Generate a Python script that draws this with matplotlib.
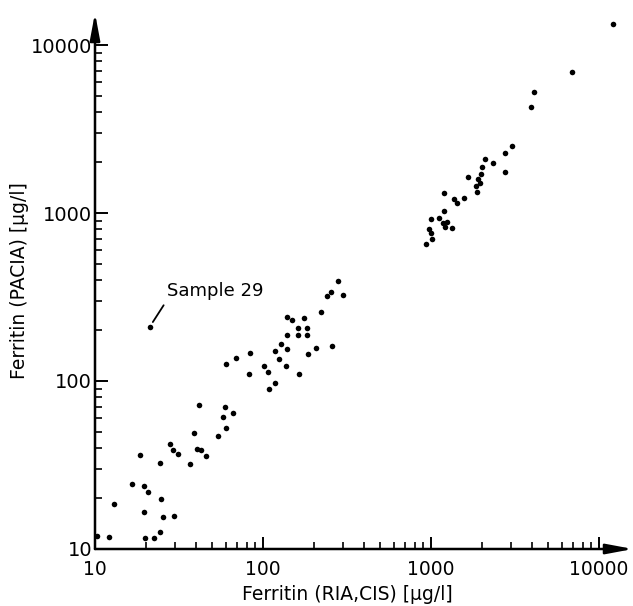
import numpy as np
import matplotlib
matplotlib.use("Agg")
import matplotlib.pyplot as plt
from matplotlib.ticker import LogLocator, FixedLocator, NullFormatter

# Ferritin (RIA, CIS) [ug/l]  -- x values
ria = [10.3, 12.1, 13.0, 16.5, 18.6, 19.7, 20.6, 19.7, 19.8, 22.5,
       24.4, 24.6, 25.3, 24.5, 29.5, 28.1, 29.2, 31.3, 36.9, 38.8,
       41.6, 40.6, 42.8, 45.6, 54.0, 58.0, 59.7, 60.2, 66.0,
       60.0, 69.3, 83.7, 82.9, 101.8, 107.1, 108.2, 118.4, 117.9, 124.0,
       127.4, 138.4, 138.4, 137.0, 138.4, 148.4, 160.9, 160.9, 176.1, 182.0,
       182.0, 163.2, 186.1, 206.8, 256.5, 222.3, 239.4, 252.8, 278.4, 300.6,
       930, 1018, 995, 973, 995, 1116, 1174, 1240, 1217, 1327,
       1194, 1202, 1376, 1434, 1578, 1667, 1892, 1944, 1845, 1884,
       1993, 2018, 2082, 2355, 2746, 2757, 3034, 3954, 4083, 6902, 12067]

# Ferritin (PACIA) [ug/l]  -- y values
pacia = [12.0, 11.8, 18.6, 24.5, 36.1, 23.6, 21.8, 16.5, 11.7, 11.6,
         12.7, 19.8, 15.5, 32.4, 15.7, 42.4, 38.7, 36.6, 31.9, 49.0,
         71.9, 39.4, 39.0, 35.8, 47.1, 60.8, 69.7, 52.3, 64.8,
         126.8, 136.5, 147.4, 110.5, 123.3, 112.7, 89.6, 97.3, 150.3, 135.7,
         166.7, 187.9, 155.6, 122.8, 239.4, 230.6, 207.5, 187.9, 236.1, 206.0,
         187.9, 110.5, 144.2, 157.0, 162.2, 258.5, 320.6, 338.8, 395.5, 325.2,
         651, 703, 757, 800, 921, 930, 875, 888, 829, 811,
         1028, 1318, 1206, 1151, 1223, 1644, 1587, 1509, 1439, 1331,
         1718, 1886, 2087, 1979, 1750, 2291, 2515, 4256, 5248, 6878, 13335]

# Outlier "Sample 29"
sample29_x = [21.2]
sample29_y = [210.4]
sample29_label = "Sample 29"

x_label = "Ferritin (RIA,CIS) [\u03bcg/l]"
y_label = "Ferritin (PACIA) [\u03bcg/l]"
tick_values = [10, 100, 1000, 10000]
tick_labels = ["10", "100", "1000", "10000"]

plt.rcParams['font.family'] = ['DejaVu Sans']

W, H = 633, 606
fig = plt.figure(figsize=(W / 100, H / 100), dpi=100)
left_px, right_px, bottom_px, top_px = 95, 633, 549, 13
ax = fig.add_axes([left_px / W, (H - bottom_px) / H,
                   (right_px - left_px) / W, (bottom_px - top_px) / H])
ax.set_xscale('log')
ax.set_yscale('log')
dec = 168.0
ax.set_xlim(10, 10 ** (1 + (right_px - left_px) / dec))
ax.set_ylim(10, 10 ** (1 + (bottom_px - top_px) / dec))

ax.scatter(ria, pacia, s=16, color='black', linewidths=0, zorder=3)
ax.scatter(sample29_x, sample29_y, s=16, color='black', linewidths=0, zorder=3)

ax.annotate(sample29_label, xy=(sample29_x[0], sample29_y[0]),
            xytext=(26.8, 320), textcoords='data',
            fontsize=13, ha='left', va='baseline',
            arrowprops=dict(arrowstyle='-', color='black', lw=1.3,
                            shrinkA=2, shrinkB=4, relpos=(0, 0)))

for s in ax.spines.values():
    s.set_visible(False)

# axes drawn as arrows
arrow_kw = dict(arrowstyle='-|>,head_length=1.6,head_width=0.3',
                color='black', lw=1.8, mutation_scale=10,
                shrinkA=0, shrinkB=0)
ax.annotate('', xy=(1.0, 0), xytext=(0, 0), xycoords='axes fraction',
            arrowprops=arrow_kw, annotation_clip=False)
ax.annotate('', xy=(0, 1.0), xytext=(0, 0), xycoords='axes fraction',
            arrowprops=arrow_kw, annotation_clip=False)

ax.xaxis.set_major_locator(FixedLocator(tick_values))
ax.yaxis.set_major_locator(FixedLocator(tick_values))
ax.set_xticklabels(tick_labels)
ax.set_yticklabels(tick_labels)
ax.xaxis.set_minor_locator(LogLocator(base=10, subs=np.arange(2, 10)))
ax.yaxis.set_minor_locator(LogLocator(base=10, subs=np.arange(2, 10)))
ax.xaxis.set_minor_formatter(NullFormatter())
ax.yaxis.set_minor_formatter(NullFormatter())
ax.tick_params(which='major', direction='in', length=9, width=1.4, labelsize=14, pad=4)
ax.tick_params(which='minor', direction='in', length=5, width=1.2)
ax.tick_params(axis='y', which='major', pad=2)
ax.tick_params(axis='x', which='major', pad=8, labelsize=13.5)

fig.text(347 / W, 1 - 595 / H, x_label, ha='center', va='center', fontsize=13.5)
fig.text(20 / W, 1 - 281 / H, y_label, ha='center', va='center', fontsize=13.5,
         rotation=90)

fig.savefig('out.png', dpi=100, facecolor='white')
